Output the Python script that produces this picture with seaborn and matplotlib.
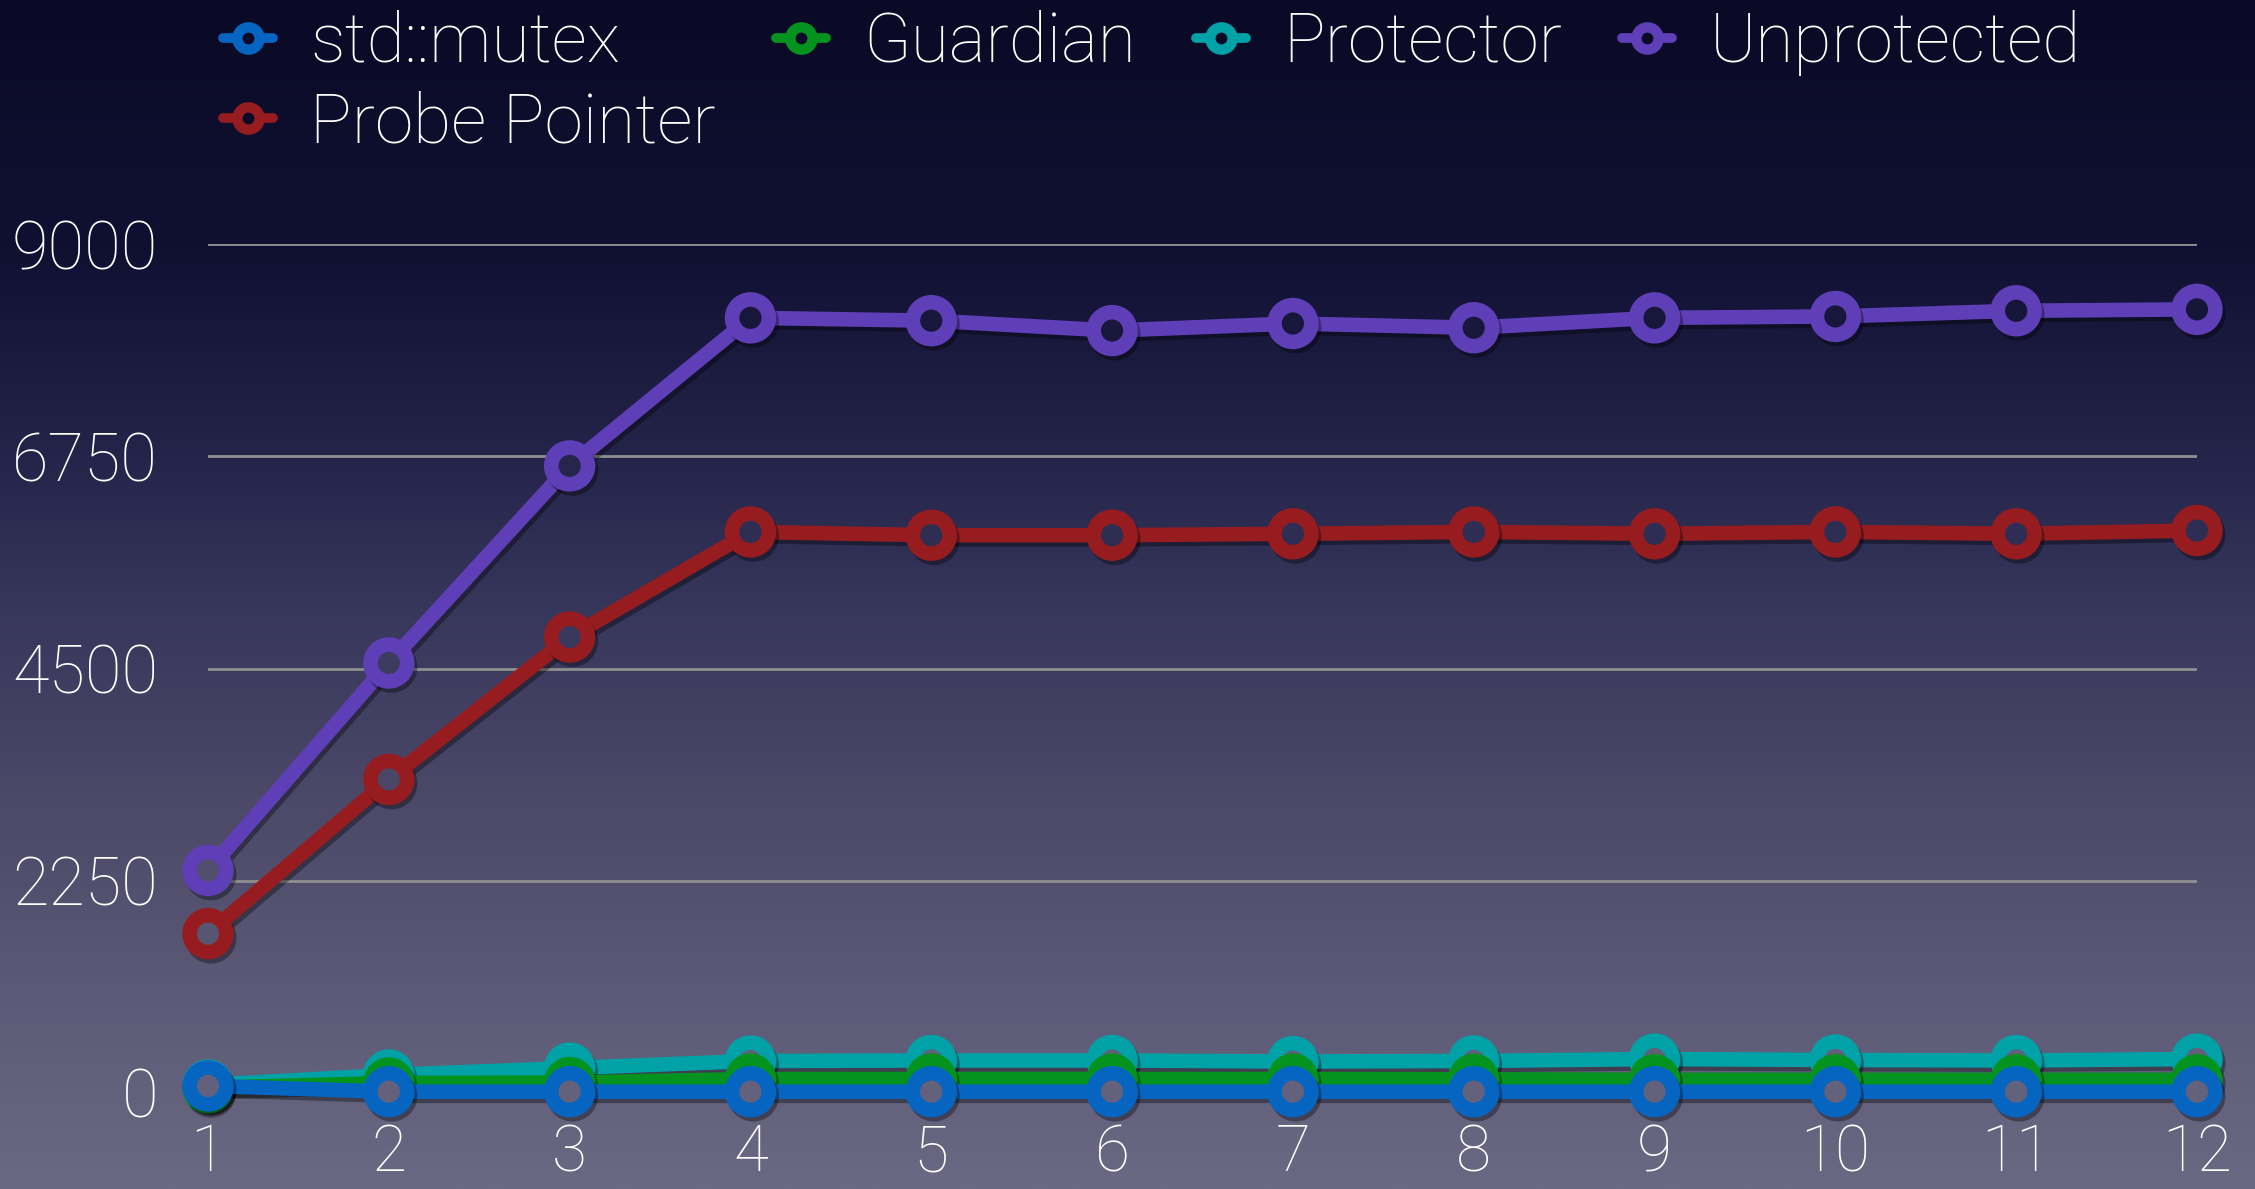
import numpy as np
import pandas as pd
import seaborn as sns
import matplotlib.pyplot as plt
import matplotlib.patheffects as pe
from matplotlib.lines import Line2D
from matplotlib.colors import LinearSegmentedColormap

# threads on the x axis
threads = list(range(1, 13))

# throughput per series
std_mutex = [75, 14, 14, 14, 14, 14, 14, 14, 14, 14, 14, 14]
guardian = [55, 106, 111, 148, 148, 148, 148, 145, 140, 140, 140, 140]
protector = [85, 191, 265, 339, 345, 345, 334, 340, 360, 350, 345, 360]
unprotected = [2360, 4560, 6650, 8220, 8190, 8085, 8160, 8115, 8220, 8235, 8295, 8310]
probe_pointer = [1690, 3325, 4835, 5950, 5915, 5915, 5930, 5950, 5930, 5950, 5930, 5965]

y_ticks = [0, 2250, 4500, 6750, 9000]

colors = {
    "std::mutex": "#0765c2",
    "Guardian": "#05931f",
    "Protector": "#00a2a8",
    "Unprotected": "#5f3fb7",
    "Probe Pointer": "#961c1f",
}

# background gradient, top -> bottom
bg_stops = [0.0, 0.21, 0.38, 0.52, 0.67, 0.84, 1.0]
bg_colors = ["#0a0a26", "#101033", "#24244a", "#38375c", "#4b4868", "#5c5a76", "#6a6882"]
bg_cmap = LinearSegmentedColormap.from_list("bg", list(zip(bg_stops, bg_colors)))

sns.set_theme(style="white")
plt.rcParams["font.family"] = ["Roboto", "DejaVu Sans"]
plt.rcParams["font.weight"] = "light"

W, H, DPI = 2255, 1189, 100
fig = plt.figure(figsize=(W / DPI, H / DPI), dpi=DPI)

# gradient behind everything
bg_ax = fig.add_axes([0, 0, 1, 1], zorder=-10)
bg_ax.imshow(np.linspace(0, 1, 512).reshape(-1, 1), aspect="auto", cmap=bg_cmap,
             extent=[0, 1, 0, 1], origin="upper")
bg_ax.axis("off")

ax_left, ax_bottom = 208 / W, 1 - 1093 / H
ax_w, ax_h = (2197 - 208) / W, (1093 - 244.3) / H
ax = fig.add_axes([ax_left, ax_bottom, ax_w, ax_h])
ax.patch.set_alpha(0)

def bg_at(v):
    # colour of the background behind a data value (fraction from top of figure)
    fy = ax_bottom + ax_h * v / 9000
    return bg_cmap(1 - fy)

series = [
    ("Unprotected", unprotected),
    ("Probe Pointer", probe_pointer),
    ("Protector", protector),
    ("Guardian", guardian),
    ("std::mutex", std_mutex),
]

shadow = [pe.SimpleLineShadow(offset=(2, -3), shadow_color="black", alpha=0.35), pe.Normal()]
lw = 10.5
ms = 26.5
mew = 10.5

for i, (name, vals) in enumerate(series):
    df = pd.DataFrame({"threads": threads, "value": vals})
    sns.lineplot(data=df, x="threads", y="value", color=colors[name], linewidth=lw,
                 ax=ax, zorder=3 + 2 * i, legend=False)
    ax.lines[-1].set_path_effects(shadow)
    ax.lines[-1].set_clip_on(False)
    ax.lines[-1].set_solid_capstyle("butt")
    sc = ax.scatter(df["threads"], df["value"], s=ms ** 2,
                    facecolors=[bg_at(v) for v in vals], edgecolors=colors[name],
                    linewidths=mew, zorder=4 + 2 * i, clip_on=False)
    sc.set_path_effects(shadow)

ax.set_xlim(1, 12)
ax.set_ylim(0, 9000)
ax.set_xticks(threads)
ax.set_yticks(y_ticks)
ax.set_xlabel("")
ax.set_ylabel("")
ax.grid(axis="y", color="#8f8f8f", linewidth=2, zorder=1)
ax.grid(axis="x", visible=False)
ax.set_axisbelow(True)
for s in ax.spines.values():
    s.set_visible(False)
ax.tick_params(axis="both", length=0, labelcolor="white")
ax.tick_params(axis="y", pad=36, labelsize=48)
ax.tick_params(axis="x", pad=21, labelsize=46)

# legend
order = ["std::mutex", "Probe Pointer", "Guardian", "Protector", "Unprotected"]
handles = [Line2D([], [], color=colors[n], lw=7, marker="o", ms=16, mew=7.5,
                  mfc="#0a0a28", mec=colors[n]) for n in order]
fig.legend(handles, order, ncol=4, loc="upper left", bbox_to_anchor=(223 / W, 1 - 10 / H),
           frameon=False, fontsize=50, labelcolor="white", handlelength=0.72,
           handletextpad=0.54, columnspacing=0.86, labelspacing=0.22,
           borderaxespad=0, borderpad=0)

fig.savefig("out.png", dpi=DPI)
